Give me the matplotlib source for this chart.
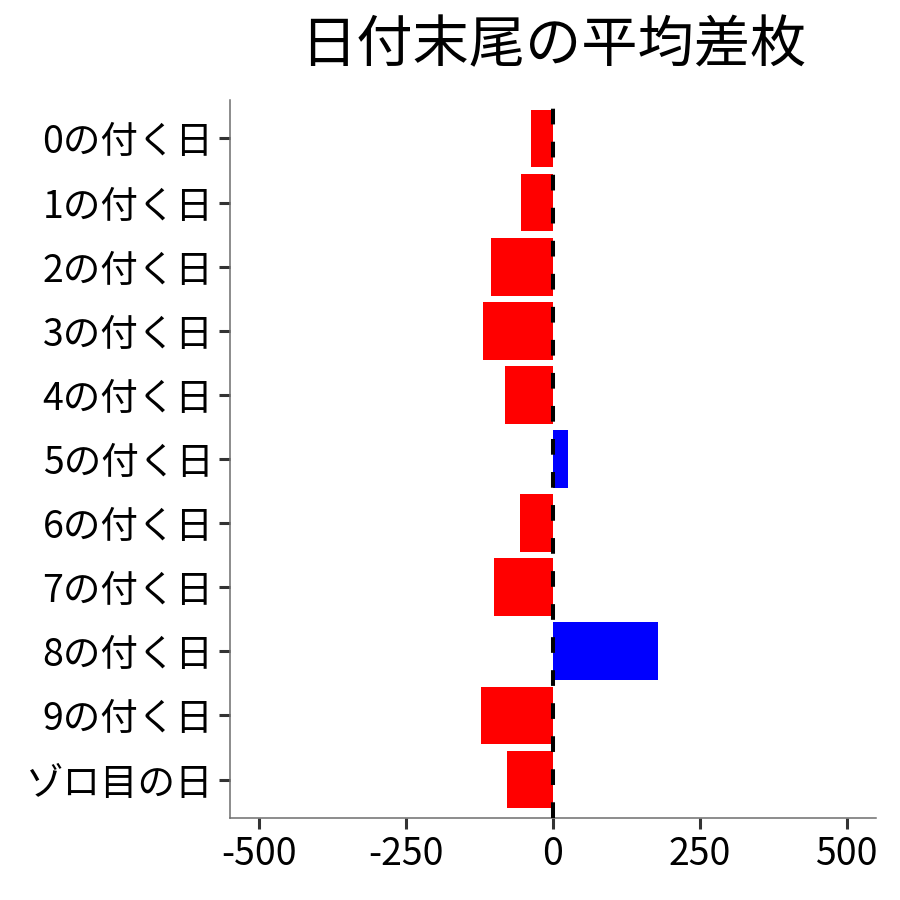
import matplotlib
matplotlib.use("Agg")
import matplotlib.pyplot as plt

plt.rcParams['font.family'] = ['Noto Sans CJK JP', 'DejaVu Sans']

categories = ["0の付く日", "1の付く日", "2の付く日", "3の付く日", "4の付く日",
              "5の付く日", "6の付く日", "7の付く日", "8の付く日", "9の付く日", "ゾロ目の日"]
values = [-38, -54, -105, -120, -81, 25, -57, -100, 178, -123, -79]
xticks = [-500, -250, 0, 250, 500]
xticklabels = ["-500", "-250", "0", "250", "500"]
title = "日付末尾の平均差枚"

fig = plt.figure(figsize=(9, 9), dpi=100)
ax = fig.add_axes([0.2556, 0.0911, 0.7177, 0.7978])

ypos = list(range(len(categories)))
colors = ["blue" if v > 0 else "red" for v in values]
ax.barh(ypos, values, height=0.9, color=colors, zorder=2)
ax.axvline(0, color="black", lw=2.9, linestyle=(0, (3.9, 4.3)), zorder=3)

ax.set_ylim(len(categories) - 0.4, -0.6)
ax.set_xlim(-550, 550)
ax.set_yticks(ypos)
ax.set_yticklabels(categories)
ax.set_xticks(xticks)
ax.set_xticklabels(xticklabels)

for s in ["top", "right"]:
    ax.spines[s].set_visible(False)
for s in ["left", "bottom"]:
    ax.spines[s].set_color("#6e6e6e")
    ax.spines[s].set_linewidth(1.1)

ax.tick_params(axis="both", length=8, width=2.2, color="#333333",
               labelsize=27, labelcolor="black", pad=4)

fig.text(0.6144, 0.948, title, ha="center", va="center", fontsize=40.5, color="black")

fig.savefig("out.png", dpi=100, facecolor="white")
